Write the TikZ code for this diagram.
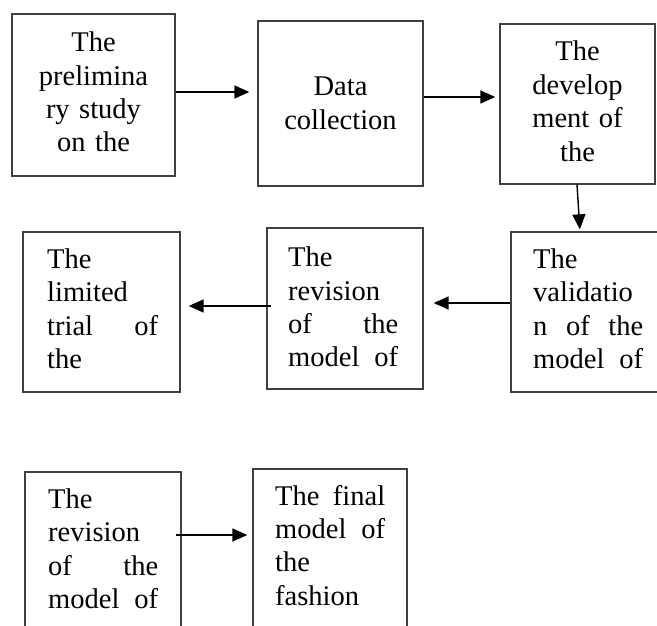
\documentclass[tikz,border=0pt]{standalone}
\usepackage{fontspec}
\setmainfont{Liberation Serif}
\usetikzlibrary{arrows.meta}
\begin{document}
\begin{tikzpicture}[x=1pt,y=-1pt,
  box/.style={draw=black!75,line width=1.3pt,rectangle,inner sep=0pt},
  txt/.style={inner sep=0pt,text width=#1,font=\fontsize{28.5}{33.4}\selectfont},
  arr/.style={line width=1.4pt,-{Triangle[length=15pt,width=13pt]}}]
\useasboundingbox (0,0) rectangle (657,626);
\clip (0,0) rectangle (657,626);
% boxes
\node[box,minimum width=163pt,minimum height=162pt] (b1) at (93.5,95) {};
\node[box,minimum width=165pt,minimum height=165pt] (b2) at (340.5,103.5) {};
\node[box,minimum width=155pt,minimum height=160pt] (b3) at (577.5,104) {};
\node[box,minimum width=157pt,minimum height=160pt] (b4) at (101.5,312) {};
\node[box,minimum width=156pt,minimum height=161pt] (b5) at (345,308.5) {};
\node[box,minimum width=169pt,minimum height=160pt] (b6) at (595.5,312) {};
\node[box,minimum width=156pt,minimum height=168pt] (b7) at (103,556) {};
\node[box,minimum width=154pt,minimum height=171pt] (b8) at (330,554.5) {};
% texts
\node[txt=150pt,align=center,anchor=base] (t1) at (93.5,51.7) {The\\prelimina\\ry study\\on the};
\node[txt=150pt,align=center,anchor=base] (t2) at (340.5,96) {Data\\collection};
\node[txt=150pt,align=center,anchor=base] (t3) at (577.5,61) {The\\develop\\ment of\\the};
\node[txt=111pt,align=left,anchor=base west] (t4) at (47,268.3) {The\\limited\\trial\hfill of\\the};
\node[txt=110pt,align=left,anchor=base west] (t5) at (288,266.7) {The\\revision\\of\hfill the\\model\hfill of};
\node[txt=110pt,align=left,anchor=base west] (t6) at (533,268.3) {The\\validatio\\n\hfill of\hfill the\\model\hfill of};
\node[txt=110pt,align=left,anchor=base west] (t7) at (48,508.3) {The\\revision\\of\hfill the\\model\hfill of};
\node[txt=110pt,align=left,anchor=base west] (t8) at (275,505) {The\hfill final\\model\hfill of\\the\\fashion};
% arrows
\draw[arr,shorten >=8pt] ([yshift=3pt]b1.east) -- ([yshift=11.5pt]b2.west);
\draw[arr,shorten >=4pt] ([yshift=6.5pt]b2.east) -- ([yshift=7pt]b3.west);
\draw[arr,shorten >=2pt] ([xshift=-0.5pt]b3.south) -- ([xshift=-15.5pt]b6.north);
\draw[arr,shorten >=10pt] ([yshift=9pt]b6.west) -- ([yshift=5.5pt]b5.east);
\draw[arr,shorten <=-5pt,shorten >=8pt] ([yshift=2.5pt]b5.west) -- ([yshift=6pt]b4.east);
\draw[arr,shorten <=-6pt,shorten >=5pt] ([yshift=21pt]b7.east) -- ([yshift=19.5pt]b8.west);
\end{tikzpicture}
\end{document}
